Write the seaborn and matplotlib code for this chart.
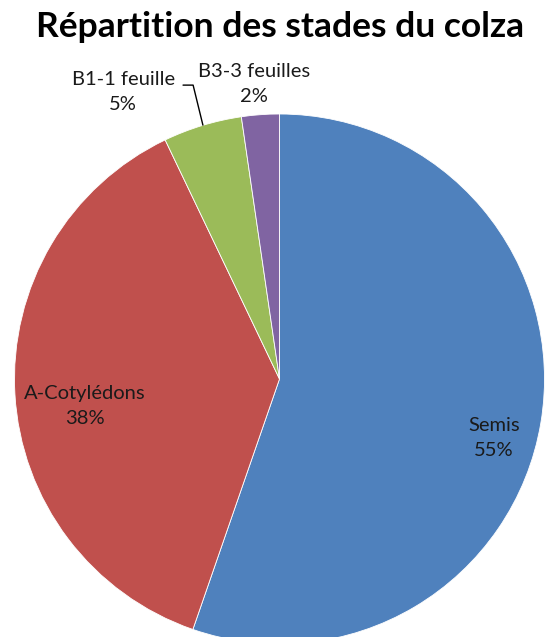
import matplotlib
matplotlib.use("Agg")
import matplotlib.pyplot as plt
import seaborn as sns

# Data
categories = ["Semis", "A-Cotylédons", "B1-1 feuille", "B3-3 feuilles"]
values = [55.3, 37.6, 4.8, 2.3]
pct_labels = ["55%", "38%", "5%", "2%"]
colors = ["#4F81BD", "#C0504D", "#9BBB59", "#8064A2"]

sns.set_theme(style="white")
plt.rcParams["font.family"] = ["Lato", "DejaVu Sans"]

fig = plt.figure(figsize=(5.53, 6.37), dpi=100)
W, H = 553, 637
cx, cy, r = 279.5, 379, 265
ax = fig.add_axes([(cx - r) / W, (H - cy - r) / H, 2 * r / W, 2 * r / H])
wedges, _ = ax.pie(values, colors=colors, startangle=90, counterclock=False,
                   radius=1, wedgeprops=dict(linewidth=0.6, edgecolor="white"))
ax.set_xlim(-1, 1)
ax.set_ylim(-1, 1)
ax.set_aspect("equal")
ax.axis("off")

label_pos = [(0.809, -0.223), (-0.734, -0.102), (-0.59, 1.083), (-0.096, 1.113)]
for (x, y), name, p in zip(label_pos, categories, pct_labels):
    ax.text(x, y, f"{name}\n{p}", ha="center", va="center", fontsize=14.5,
            color="#1a1a1a", linespacing=1.6, clip_on=False)

# leader line for B1
ax.plot([-0.364, -0.326, -0.289], [1.109, 1.109, 0.958], color="black",
        linewidth=1.0, clip_on=False)

fig.text(280 / W, 1 - 37 / H, "Répartition des stades du colza", ha="center",
         va="baseline", fontsize=25.5, fontweight="bold", color="black")

fig.savefig("out.png", dpi=100)
